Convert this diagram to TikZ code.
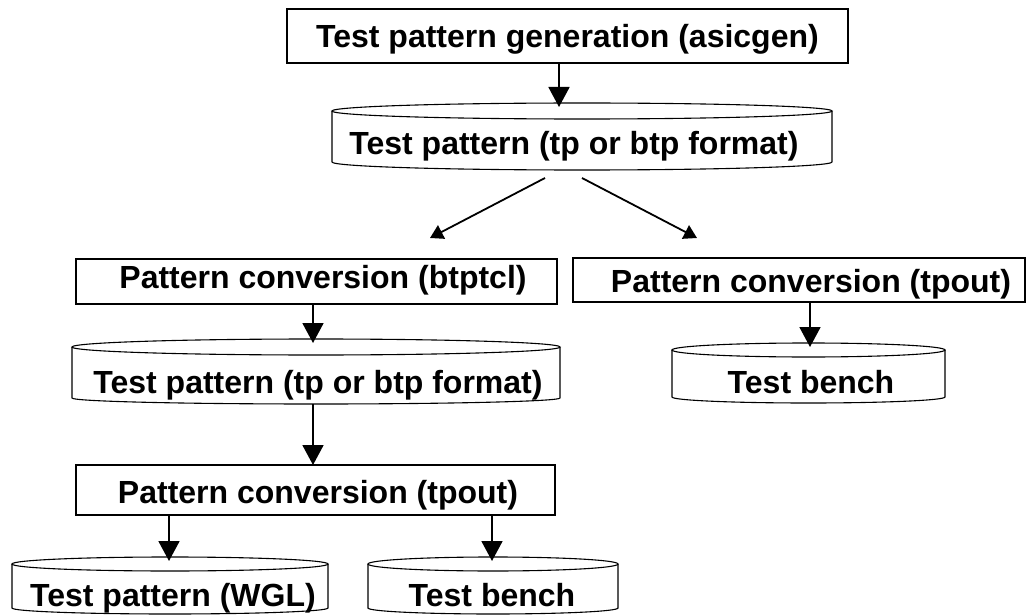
\documentclass[tikz,border=0pt]{standalone}
\usepackage{fontspec}
\setmainfont{Liberation Sans}
\usetikzlibrary{arrows.meta,calc}

% storage cylinder: name, centre x, y of top ellipse centre, y of side bottom,
% half width, top ellipse y radius, bottom arc y radius (y measured downwards)
\newcommand\dbnode[7]{%
  \node[dbbody, minimum width={2*#5}, minimum height={#4-#3}] (#1) at (#2,{-(#3+#4)/2}) {};
  \draw[dbline] (#1.north) ellipse[x radius=#5, y radius=#6];
  \draw[dbline] (#1.north west) -- (#1.south west)
    arc[start angle=180, end angle=360, x radius=#5, y radius=#7] -- (#1.north east);
  \coordinate (#1-top) at ([yshift=#6pt-4pt]#1.north);
  \coordinate (#1-bot) at ([yshift=-#7pt]#1.south);
}

\begin{document}
\begin{tikzpicture}[x=1pt,y=1pt,
  procbox/.style={draw=black, line width=1.3pt, inner sep=0pt, outer sep=0pt},
  dbbody/.style={inner sep=0pt, outer sep=0pt},
  dbline/.style={line width=1.1pt},
  lbl/.style={anchor=base, inner sep=0pt, font=\fontsize{32}{38}\selectfont\bfseries},
  arr/.style={line width=1.8pt, -{Triangle[length=20pt,width=21pt]}},
  darr/.style={line width=1.8pt, -{Triangle[length=13pt,width=15pt]}}]

\useasboundingbox (0,0) rectangle (1029,-615);

% vertical positions of the connectors
\coordinate (xa) at (559,0);
\coordinate (xb) at (313,0);
\coordinate (xc) at (810,0);
\coordinate (xd) at (169,0);
\coordinate (xe) at (492,0);

% generation step
\node[procbox, minimum width=561, minimum height=54] (gen) at (567.5,-36) {};
\node[lbl] (gen-t) at (567.5,-48) {Test pattern generation (asicgen)};

% first pattern store
\dbnode{c1}{582}{111}{162}{250}{8}{8}
\node[lbl] (c1-t) at (574,-155) {Test pattern (tp or btp format)};

% conversion steps
\node[procbox, minimum width=481, minimum height=45] (btp) at (316.5,-281.5) {};
\node[lbl] (btp-t) at (323,-288) {Pattern conversion (btptcl)};
\node[procbox, minimum width=452, minimum height=44] (tpr) at (799,-280) {};
\node[lbl] (tpr-t) at (811,-292) {Pattern conversion (tpout)};

% second pattern store and right test bench
\dbnode{c2}{316}{347}{398}{244}{8}{6}
\node[lbl] (c2-t) at (318,-393) {Test pattern (tp or btp format)};
\dbnode{cR}{808.5}{350}{397}{136.5}{7}{6}
\node[lbl] (cR-t) at (811,-393) {Test bench};

% lower conversion step
\node[procbox, minimum width=479, minimum height=50] (tpo) at (315.5,-490) {};
\node[lbl] (tpo-t) at (318,-503) {Pattern conversion (tpout)};

% outputs
\dbnode{cW}{170}{564}{608}{158}{7}{6}
\node[lbl] (cW-t) at (173,-606) {Test pattern (WGL)};
\dbnode{cB}{493}{564}{608}{125}{7}{6}
\node[lbl] (cB-t) at (492,-606) {Test bench};

% connectors
\draw[arr] (gen.south -| xa) -- (c1-top -| xa);

\coordinate (d1s) at (545,-178);
\coordinate (d1e) at (430,-238);
\coordinate (d2s) at (582,-178);
\coordinate (d2e) at (697,-238);
\draw[darr] (d1s) -- (d1e);
\draw[darr] (d2s) -- (d2e);

\draw[arr] (btp.south -| xb) -- (c2-top -| xb);
\draw[arr] (tpr.south -| xc) -- (cR-top -| xc);
\draw[arr] (c2-bot -| xb) -- (tpo.north -| xb);
\draw[arr] (tpo.south -| xd) -- (cW-top -| xd);
\draw[arr] (tpo.south -| xe) -- (cB-top -| xe);
\end{tikzpicture}
\end{document}
